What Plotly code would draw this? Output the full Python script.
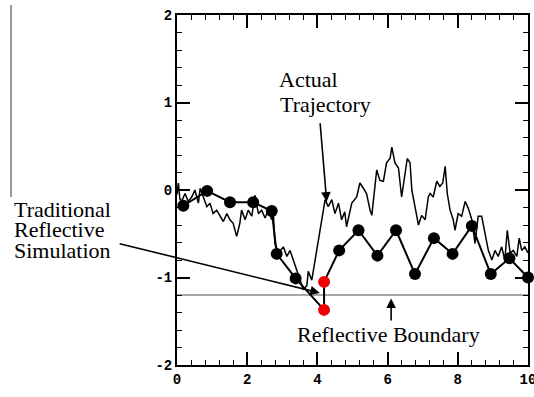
import plotly.graph_objects as go

# Actual trajectory
traj_x = [0.00, 0.04, 0.08, 0.13, 0.23, 0.32, 0.42, 0.51, 0.61, 0.66, 0.75, 0.85, 0.94, 1.03, 1.13,
          1.23, 1.32, 1.42, 1.51, 1.60, 1.70, 1.79, 1.84, 1.94, 2.03, 2.13, 2.22, 2.32, 2.41, 2.51,
          2.60, 2.70, 2.74, 2.79, 2.89, 3.03, 3.13, 3.22, 3.31, 3.41, 3.50, 3.60, 3.70, 3.74, 3.84,
          3.89, 3.98, 4.07, 4.17, 4.22, 4.31, 4.41, 4.50, 4.60, 4.69, 4.78, 4.83, 4.98, 5.12, 5.21,
          5.31, 5.40, 5.50, 5.55, 5.69, 5.78, 5.88, 5.97, 6.07, 6.12, 6.21, 6.31, 6.40, 6.50, 6.56,
          6.64, 6.69, 6.78, 6.88, 6.97, 7.07, 7.16, 7.21, 7.30, 7.40, 7.49, 7.57, 7.64, 7.70, 7.78,
          7.87, 7.92, 8.01, 8.11, 8.21, 8.30, 8.40, 8.49, 8.58, 8.68, 8.77, 8.87, 8.97, 9.06, 9.15,
          9.25, 9.34, 9.41, 9.49, 9.58, 9.68, 9.75, 9.82, 9.91, 10.00]
traj_y = [-0.05, 0.08, -0.10, -0.13, -0.04, -0.13, -0.08, 0.00, -0.15, 0.02, -0.08, -0.19, -0.15, -0.27, -0.23,
          -0.30, -0.36, -0.27, -0.34, -0.38, -0.53, -0.38, -0.23, -0.34, -0.23, -0.30, -0.06, -0.27, -0.23, -0.32,
          -0.23, -0.34, -0.23, -0.61, -0.72, -0.65, -0.76, -0.69, -0.80, -0.91, -1.03, -1.14, -1.09, -0.93, -1.03,
          -0.91, -0.69, -0.46, -0.27, -0.11, -0.19, -0.11, -0.27, -0.15, -0.34, -0.25, -0.42, -0.15, -0.08, 0.08,
          0.02, -0.04, -0.23, -0.29, 0.23, 0.11, 0.10, 0.31, 0.36, 0.49, 0.31, 0.25, -0.08, 0.23, 0.36,
          0.31, 0.00, -0.19, -0.40, -0.29, -0.34, -0.08, -0.04, -0.08, 0.10, 0.04, 0.08, 0.27, -0.04, -0.23,
          -0.34, -0.46, -0.27, -0.30, -0.13, -0.21, -0.34, -0.61, -0.30, -0.30, -0.50, -0.69, -0.80, -0.69, -0.76,
          -0.65, -0.80, -0.46, -0.72, -0.69, -0.76, -0.55, -0.69, -0.65, -0.72]

# Traditional reflective simulation (dots)
sim_x = [0.18, 0.86, 1.51, 2.17, 2.70, 2.84, 3.38, 4.19, 4.19, 4.62, 5.17, 5.71, 6.24, 6.78, 7.32,
         7.85, 8.40, 8.94, 9.47, 10.0]
sim_y = [-0.18, -0.01, -0.14, -0.14, -0.24, -0.73, -1.01, -1.37, -1.05, -0.69, -0.46, -0.75, -0.46, -0.96, -0.55,
         -0.73, -0.41, -0.96, -0.78, -1.00]
sim_colors = ["black"] * 7 + ["#f20000", "#f20000"] + ["black"] * 11

boundary_y = -1.2
x_ticks = [0, 2, 4, 6, 8, 10]
y_ticks = [-2, -1, 0, 1, 2]
y_tick_text = ["-2", "-1", "0", "1", "2"]

fig = go.Figure()
fig.add_trace(go.Scatter(x=[0, 10], y=[boundary_y, boundary_y], mode="lines",
                         line=dict(color="#8a8a8a", width=1.3), hoverinfo="skip"))
fig.add_trace(go.Scatter(x=traj_x, y=traj_y, mode="lines",
                         line=dict(color="black", width=1.5)))
fig.add_trace(go.Scatter(x=sim_x, y=sim_y, mode="lines+markers",
                         line=dict(color="black", width=2),
                         marker=dict(color=sim_colors, size=12, line=dict(width=0)),
                         cliponaxis=False))

def px2paper(px, py):
    return (px - 177) / 351.0, (365 - py) / 350.0

serif = dict(family="Liberation Serif, Times New Roman, Times, serif", size=22, color="black")
texts = [
    ("Actual", 276.7, 79.5),
    ("Trajectory", 277.7, 104.5),
    ("Traditional", 12, 209.5),
    ("Reflective", 12, 229.5),
    ("Simulation", 12, 250.5),
    ("Reflective Boundary", 295, 334.5),
]
for t, px, py in texts:
    xp, yp = px2paper(px, py)
    fig.add_annotation(x=xp, y=yp, xref="paper", yref="paper", text=t, showarrow=False,
                       xanchor="left", yanchor="middle", font=serif)

arrow = dict(showarrow=True, text="", arrowhead=2, arrowsize=1.2, arrowwidth=1.6,
             arrowcolor="black", xref="x", yref="y")
fig.add_annotation(x=4.265, y=-0.134, ax=-6.7, ay=-80, **arrow)
fig.add_annotation(x=4.07, y=-1.177, ax=-201.7, ay=-49.7, **arrow)
fig.add_annotation(x=6.10, y=-1.24, ax=0, ay=23.4, **arrow)

x0, y0 = px2paper(11, 5)
x1, y1 = px2paper(11, 197)
fig.add_shape(type="line", xref="paper", yref="paper", x0=x0, y0=y0, x1=x1, y1=y1,
              line=dict(color="#555555", width=1.2))

tickfont = dict(family="Liberation Mono, Courier New, monospace", size=14, color="black", weight=700)
common = dict(showgrid=False, zeroline=False, showline=True, linecolor="black", linewidth=2,
              mirror="allticks", ticks="inside", ticklen=13, tickwidth=1.5, tickcolor="black",
              tickfont=tickfont, ticklabeloverflow="allow", automargin=False)
fig.update_xaxes(range=[0, 10], tickvals=x_ticks, ticktext=[str(v) for v in x_ticks],
                 minor=dict(dtick=0.4, tick0=0, ticks="inside", ticklen=5, tickwidth=1.3, tickcolor="black"),
                 **common)
fig.update_yaxes(range=[-2, 2], tickvals=y_ticks, ticktext=y_tick_text,
                 minor=dict(dtick=0.2, tick0=0, ticks="inside", ticklen=5, tickwidth=1.3, tickcolor="black"),
                 **common)

fig.update_layout(width=534, height=397, margin=dict(l=177, r=6, t=15, b=32, autoexpand=False),
                  paper_bgcolor="white", plot_bgcolor="white", showlegend=False,
                  font=dict(family="Liberation Mono, monospace"))

fig.write_html("out.html", config={"displayModeBar": False},
               post_script="document.body.style.margin='0';document.body.style.overflow='hidden';")
